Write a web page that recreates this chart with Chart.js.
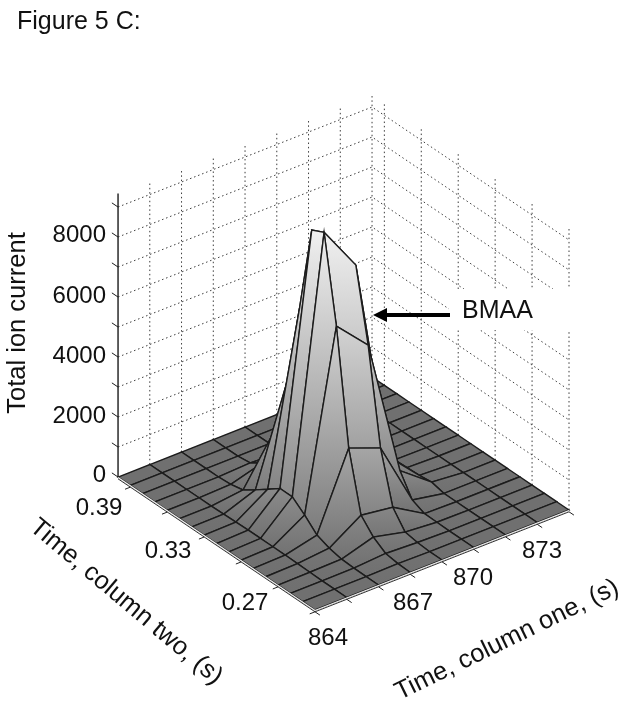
<!DOCTYPE html>
<html>
<head>
<meta charset="utf-8">
<title>Figure 5 C</title>
<script src="https://cdn.jsdelivr.net/npm/chart.js@4"></script>
<style>
  html, body { margin: 0; padding: 0; background: #fff; }
  canvas { display: block; }
</style>
</head>
<body>
<canvas id="grafico" width="628" height="705"></canvas>
<script>
// sampled axes of the surface
const timeOne = [864, 865.5, 867, 868.5, 870, 871.5, 873, 874.5, 876];
const timeTwo = [0.24, 0.25, 0.26, 0.27, 0.28, 0.29, 0.30, 0.31, 0.32, 0.33, 0.34, 0.35, 0.36, 0.37, 0.38, 0.39, 0.40];

// total ion current, one list per column one time, running along timeTwo
const current864 =  [0, 0, 0, 0, 0, 0, 0, 0, 0, 0, 0, 0, 0, 0, 0, 0, 0];
const current8655 = [0, 0, 0, 10, 20, 30, 30, 30, 30, 20, 10, 0, 0, 0, 0, 0, 0];
const current867 =  [0, 0, 10, 30, 120, 280, 670, 1000, 1000, 700, 400, 120, 30, 0, 0, 0, 0];
const current8685 = [0, 20, 80, 350, 800, 2760, 6550, 9400, 9200, 6300, 3600, 1700, 330, 50, 0, 0, 0];
const current870 =  [0, 0, 30, 100, 650, 2350, 5500, 7890, 5000, 1800, 600, 200, 50, 0, 0, 0, 0];
const current8715 = [0, 0, 0, 10, 20, 200, 900, 1100, 600, 200, 50, 0, 0, 0, 0, 0, 0];
const current873 =  [0, 0, 0, 0, 0, 0, 100, 50, 30, 10, 0, 0, 0, 0, 0, 0, 0];
const current8745 = [0, 0, 0, 0, 0, 0, 0, 0, 0, 0, 0, 0, 0, 0, 0, 0, 0];
const current876 =  [0, 0, 0, 0, 0, 0, 0, 0, 0, 0, 0, 0, 0, 0, 0, 0, 0];
const surface = [current864, current8655, current867, current8685, current870, current8715, current873, current8745, current876];

// axis ticks and labels
const currentTicks = [0, 1000, 2000, 3000, 4000, 5000, 6000, 7000, 8000, 9000];
const currentLabels = ["0", "2000", "4000", "6000", "8000"];
const timeOneTicks = [864, 865.5, 867, 868.5, 870, 871.5, 873, 874.5, 876];
const timeOneLabels = ["864", "867", "870", "873"];
const timeTwoTicks = [0.24, 0.27, 0.30, 0.33, 0.36, 0.39];
const timeTwoLabels = ["0.39", "0.33", "0.27"];

const currentTop = 9450;

/* ================================
      3D VIEW -> CHART UNITS
================================ */
function vista(t1, t2, z) {
    const a = (t1 - 864) / 1.5;
    const b = (t2 - 0.24) / 0.01;
    return {
        x: 315 + 31.75 * a - 12.31 * b,
        y: 610 - 12.5 * a - 8.31 * b - z * 0.03
    };
}

function cinza(z) {
    const v = Math.round(112 + (240 - 112) * Math.pow(Math.min(z / 9400, 1), 0.7));
    return `rgb(${v},${v},${v})`;
}

const camadas = [];

function linha(pontos, cor, largura, traco) {
    camadas.push({
        data: pontos,
        showLine: true,
        fill: false,
        borderColor: cor,
        borderWidth: largura,
        borderDash: traco || [],
        pointRadius: 0,
        tension: 0
    });
}

function face(i, j) {
    const cantos = [[i, j], [i + 1, j], [i + 1, j + 1], [i, j + 1], [i, j]];
    const zs = cantos.map(c => surface[c[0]][c[1]]);
    const pontos = cantos.map((c, k) => vista(timeOne[c[0]], timeTwo[c[1]], zs[k]));
    const ys = pontos.map(p => p.y);
    const yCima = Math.min(...ys);
    const yBaixo = Math.max(...ys);
    const zMax = Math.max(...zs);
    const zMin = Math.min(...zs);
    camadas.push({
        data: pontos,
        showLine: true,
        fill: "shape",
        backgroundColor: ctx => {
            // scriptable options also run once before the first layout
            if (!ctx.chart.chartArea) return cinza(zMin);
            const escala = ctx.chart.scales.y;
            const g = ctx.chart.ctx.createLinearGradient(0, escala.getPixelForValue(yCima), 0, escala.getPixelForValue(yBaixo));
            g.addColorStop(0, cinza(zMax));
            g.addColorStop(1, cinza(zMin));
            return g;
        },
        borderColor: "#1c1c1c",
        borderWidth: 1.4,
        pointRadius: 0,
        tension: 0
    });
}

/* ================================
      PAREDES PONTILHADAS
================================ */
const pontilhado = [1.5, 2.8];
const corGrade = "#3c3c3c";
const t1Fim = timeOne[timeOne.length - 1];
const t2Fim = timeTwo[timeTwo.length - 1];

currentTicks.slice(1).forEach(z => {
    linha([vista(864, t2Fim, z), vista(t1Fim, t2Fim, z), vista(t1Fim, 0.24, z)], corGrade, 1, pontilhado);
});
timeOneTicks.slice(1).forEach(t1 => {
    linha([vista(t1, t2Fim, 0), vista(t1, t2Fim, currentTop)], corGrade, 1, pontilhado);
});
timeTwoTicks.forEach(t2 => {
    linha([vista(t1Fim, t2, 0), vista(t1Fim, t2, currentTop)], corGrade, 1, pontilhado);
});

// white box that sits behind the BMAA label in the figure
camadas.push({
    data: [{ x: 449, y: 289 }, { x: 576, y: 289 }, { x: 576, y: 330 }, { x: 449, y: 330 }, { x: 449, y: 289 }],
    showLine: true,
    fill: "shape",
    backgroundColor: "#ffffff",
    borderWidth: 0,
    pointRadius: 0
});

/* ================================
      SUPERFICIE (fundo -> frente)
================================ */
for (let i = timeOne.length - 2; i >= 0; i--) {
    for (let j = timeTwo.length - 2; j >= 0; j--) {
        face(i, j);
    }
}

/* ================================
      EIXOS
================================ */
linha([vista(864, t2Fim, 0), vista(864, t2Fim, currentTop)], "#1a1a1a", 1.4);
currentTicks.forEach(z => {
    linha([vista(864, t2Fim, z), vista(864, t2Fim + 0.005, z)], "#1a1a1a", 1);
});
linha([vista(864, t2Fim, -15), vista(864, 0.24, -15), vista(t1Fim, 0.24, -15)], "#f4f4f4", 1.2);
linha([vista(864, t2Fim, -60), vista(864, 0.24, -60), vista(t1Fim, 0.24, -60)], "#333333", 1);
timeOneTicks.forEach(t1 => {
    linha([vista(t1, 0.24, -60), vista(t1, 0.24 - 0.004, -60)], "#222222", 1);
});
timeTwoTicks.forEach(t2 => {
    linha([vista(864, t2, -60), vista(864 - 0.25, t2, -60)], "#222222", 1);
});

/* ================================
      TEXTOS E SETA
================================ */
function girado(ctx, texto, x, y, graus) {
    ctx.save();
    ctx.translate(x, y);
    ctx.rotate(graus * Math.PI / 180);
    ctx.fillText(texto, 0, 0);
    ctx.restore();
}

const textos = {
    id: "textos",
    afterDatasetsDraw(chart) {
        const ctx = chart.ctx;
        const fonte = "Liberation Sans, Arial, sans-serif";
        ctx.save();
        ctx.fillStyle = "#111";
        ctx.textBaseline = "middle";

        ctx.textAlign = "left";
        ctx.font = `25px ${fonte}`;
        ctx.fillText("Figure 5 C:", 17, 22);
        ctx.fillText("BMAA", 462, 311);

        ctx.font = `24px ${fonte}`;
        ctx.textAlign = "right";
        const yCorrente = [475, 416, 356, 296, 235];
        currentLabels.forEach((t, k) => ctx.fillText(t, 106, yCorrente[k]));

        ctx.textAlign = "center";
        const lugaresDois = [[99, 508], [168, 551], [245, 603]];
        timeTwoLabels.forEach((t, k) => ctx.fillText(t, lugaresDois[k][0], lugaresDois[k][1]));
        const lugaresUm = [[328, 638], [413, 603], [473, 578], [542, 551]];
        timeOneLabels.forEach((t, k) => ctx.fillText(t, lugaresUm[k][0], lugaresUm[k][1]));

        ctx.font = `25.5px ${fonte}`;
        girado(ctx, "Total ion current", 18, 323, -90);
        girado(ctx, "Time, column two, (s)", 126, 602, 40);
        girado(ctx, "Time, column one, (s)", 507, 640, -26);

        // seta do BMAA
        ctx.strokeStyle = "#000";
        ctx.lineWidth = 4;
        ctx.beginPath();
        ctx.moveTo(450, 315);
        ctx.lineTo(384, 315);
        ctx.stroke();
        ctx.fillStyle = "#000";
        ctx.beginPath();
        ctx.moveTo(373, 315);
        ctx.lineTo(387, 308);
        ctx.lineTo(387, 322);
        ctx.closePath();
        ctx.fill();
        ctx.restore();
    }
};

new Chart(document.getElementById("grafico"), {
    type: "scatter",
    data: { datasets: camadas.slice().reverse() }, // first dataset is painted last
    options: {
        responsive: false,
        animation: false,
        layout: { padding: 0 },
        plugins: { legend: { display: false }, tooltip: { enabled: false } },
        scales: {
            x: { type: "linear", display: false, min: 0, max: 628 },
            y: { type: "linear", display: false, min: 0, max: 705, reverse: true }
        }
    },
    plugins: [textos]
});
</script>
</body>
</html>
